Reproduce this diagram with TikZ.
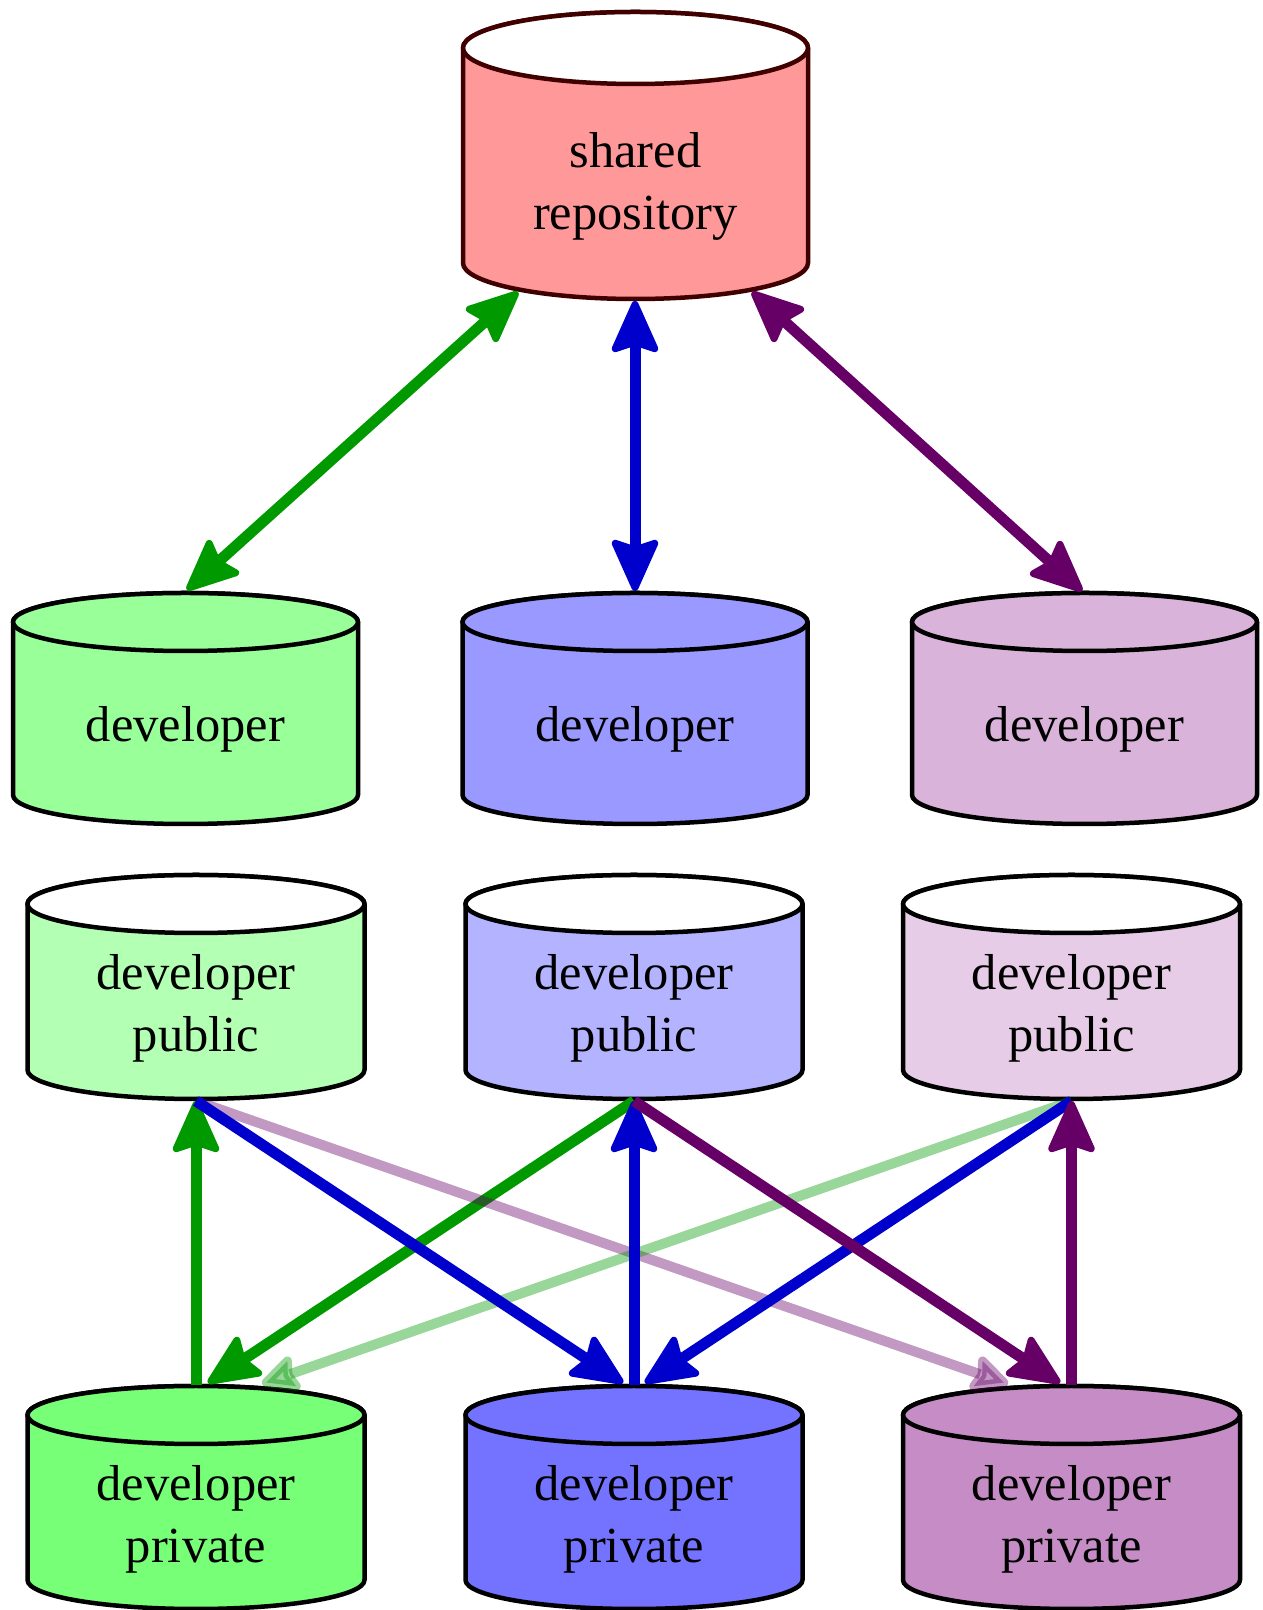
\documentclass[tikz,border=0pt]{standalone}
\usepackage{fontspec}
\setmainfont{Liberation Serif}
\usetikzlibrary{arrows.meta}
\definecolor{shfill}{HTML}{FF9999}
\definecolor{shline}{HTML}{400000}
\definecolor{gDev}{HTML}{99FF99}
\definecolor{gPub}{HTML}{B3FFB3}
\definecolor{gPriv}{HTML}{77FF77}
\definecolor{bDev}{HTML}{9999FF}
\definecolor{bPub}{HTML}{B3B3FF}
\definecolor{bPriv}{HTML}{7373FF}
\definecolor{pDev}{HTML}{D9B3D9}
\definecolor{pPub}{HTML}{E6CCE6}
\definecolor{pPriv}{HTML}{C68CC6}
\definecolor{gArr}{HTML}{009900}
\definecolor{bArr}{HTML}{0000CC}
\definecolor{pArr}{HTML}{660066}
\newcommand\cylshape[8]{%
  \filldraw[cyl, draw=#8, fill=#6] (#1-#2,#3) -- (#1-#2,#4)
    arc[start angle=180,end angle=360,x radius=#2,y radius=#5]
    -- (#1+#2,#3)
    arc[start angle=0,end angle=180,x radius=#2,y radius=#5] -- cycle;
  \filldraw[cyl, draw=#8, fill=#7] (#1,#3) ellipse[x radius=#2, y radius=#5];
}
\newcommand\twol[2]{\begin{tabular}[t]{@{}c@{}}#1\\#2\end{tabular}}
\begin{document}
\begin{tikzpicture}[x=1pt,y=1pt,
  cyl/.style={line width=4.5pt, line join=round},
  lbl/.style={anchor=base, inner sep=0pt, font=\fontsize{50.5}{61.5}\selectfont},
  headtip/.tip={Stealth[length=58pt,width=51pt,inset=8pt,round,line width=7pt]},
  fadetip/.tip={Stealth[length=44pt,width=42pt,inset=6pt,round,line width=9pt]},
  conn/.style={line width=11pt, -headtip},
  biconn/.style={line width=11pt, headtip-headtip},
  faded/.style={line width=10pt, opacity=0.4, -fadetip}]
\useasboundingbox (0,0) rectangle (1262,1610);

% cylinders
\cylshape{635.5}{172.5}{1562}{1347}{36}{shfill}{white}{shline}
\cylshape{185.5}{172.5}{988}{815}{29}{gDev}{gDev}{black}
\cylshape{635}{172.5}{988}{815}{29}{bDev}{bDev}{black}
\cylshape{1084.5}{172.5}{988}{815}{29}{pDev}{pDev}{black}
\cylshape{196}{168.5}{706}{540}{29}{gPub}{white}{black}
\cylshape{634}{168.5}{706}{540}{29}{bPub}{white}{black}
\cylshape{1071.5}{168.5}{706}{540}{29}{pPub}{white}{black}
\cylshape{196}{168.5}{195}{30}{29}{gPriv}{gPriv}{black}
\cylshape{634}{168.5}{195}{30}{29}{bPriv}{bPriv}{black}
\cylshape{1071.5}{168.5}{195}{30}{29}{pPriv}{pPriv}{black}

% labels
\node[lbl] (shared) at (635.5,1442) {\twol{shared}{repository}};
\node[lbl] (devG) at (185.5,868) {developer};
\node[lbl] (devB) at (635,868) {developer};
\node[lbl] (devP) at (1084.5,868) {developer};
\node[lbl] (pubG) at (196,620) {\twol{developer}{public}};
\node[lbl] (pubB) at (634,620) {\twol{developer}{public}};
\node[lbl] (pubP) at (1071.5,620) {\twol{developer}{public}};
\node[lbl] (privG) at (196,109) {\twol{developer}{private}};
\node[lbl] (privB) at (634,109) {\twol{developer}{private}};
\node[lbl] (privP) at (1071.5,109) {\twol{developer}{private}};

% connector end points
\coordinate (shG) at (518,1318);
\coordinate (shB) at (635,1309);
\coordinate (shP) at (752,1318);
\coordinate (dGt) at (187,1020);
\coordinate (dBt) at (635,1019);
\coordinate (dPt) at (1082,1019);
\coordinate (pGb) at (196,509);
\coordinate (pBb) at (634,509);
\coordinate (pPb) at (1071.5,509);
\coordinate (vGt) at (196,225);
\coordinate (vBt) at (634,225);
\coordinate (vPt) at (1071.5,225);
\coordinate (vGin) at (208,227);
\coordinate (vGfd) at (262,226);
\coordinate (vBl) at (623,227);
\coordinate (vBr) at (645,227);
\coordinate (vPin) at (1060,227);
\coordinate (vPfd) at (1008,226);

% shared <-> developer
\draw[biconn, gArr] (shG) -- (dGt);
\draw[biconn, bArr] (shB) -- (dBt);
\draw[biconn, pArr] (shP) -- (dPt);

% public / private
\draw[conn, gArr] (vGt) -- (pGb);
\draw[conn, gArr] (pBb) -- (vGin);
\draw[faded, pArr] (pGb) -- (vPfd);
\draw[faded, gArr] (pPb) -- (vGfd);
\draw[conn, bArr] (pGb) -- (vBl);
\draw[conn, bArr] (vBt) -- (pBb);
\draw[conn, bArr] (pPb) -- (vBr);
\draw[conn, pArr] (pBb) -- (vPin);
\draw[conn, pArr] (vPt) -- (pPb);
\end{tikzpicture}
\end{document}
